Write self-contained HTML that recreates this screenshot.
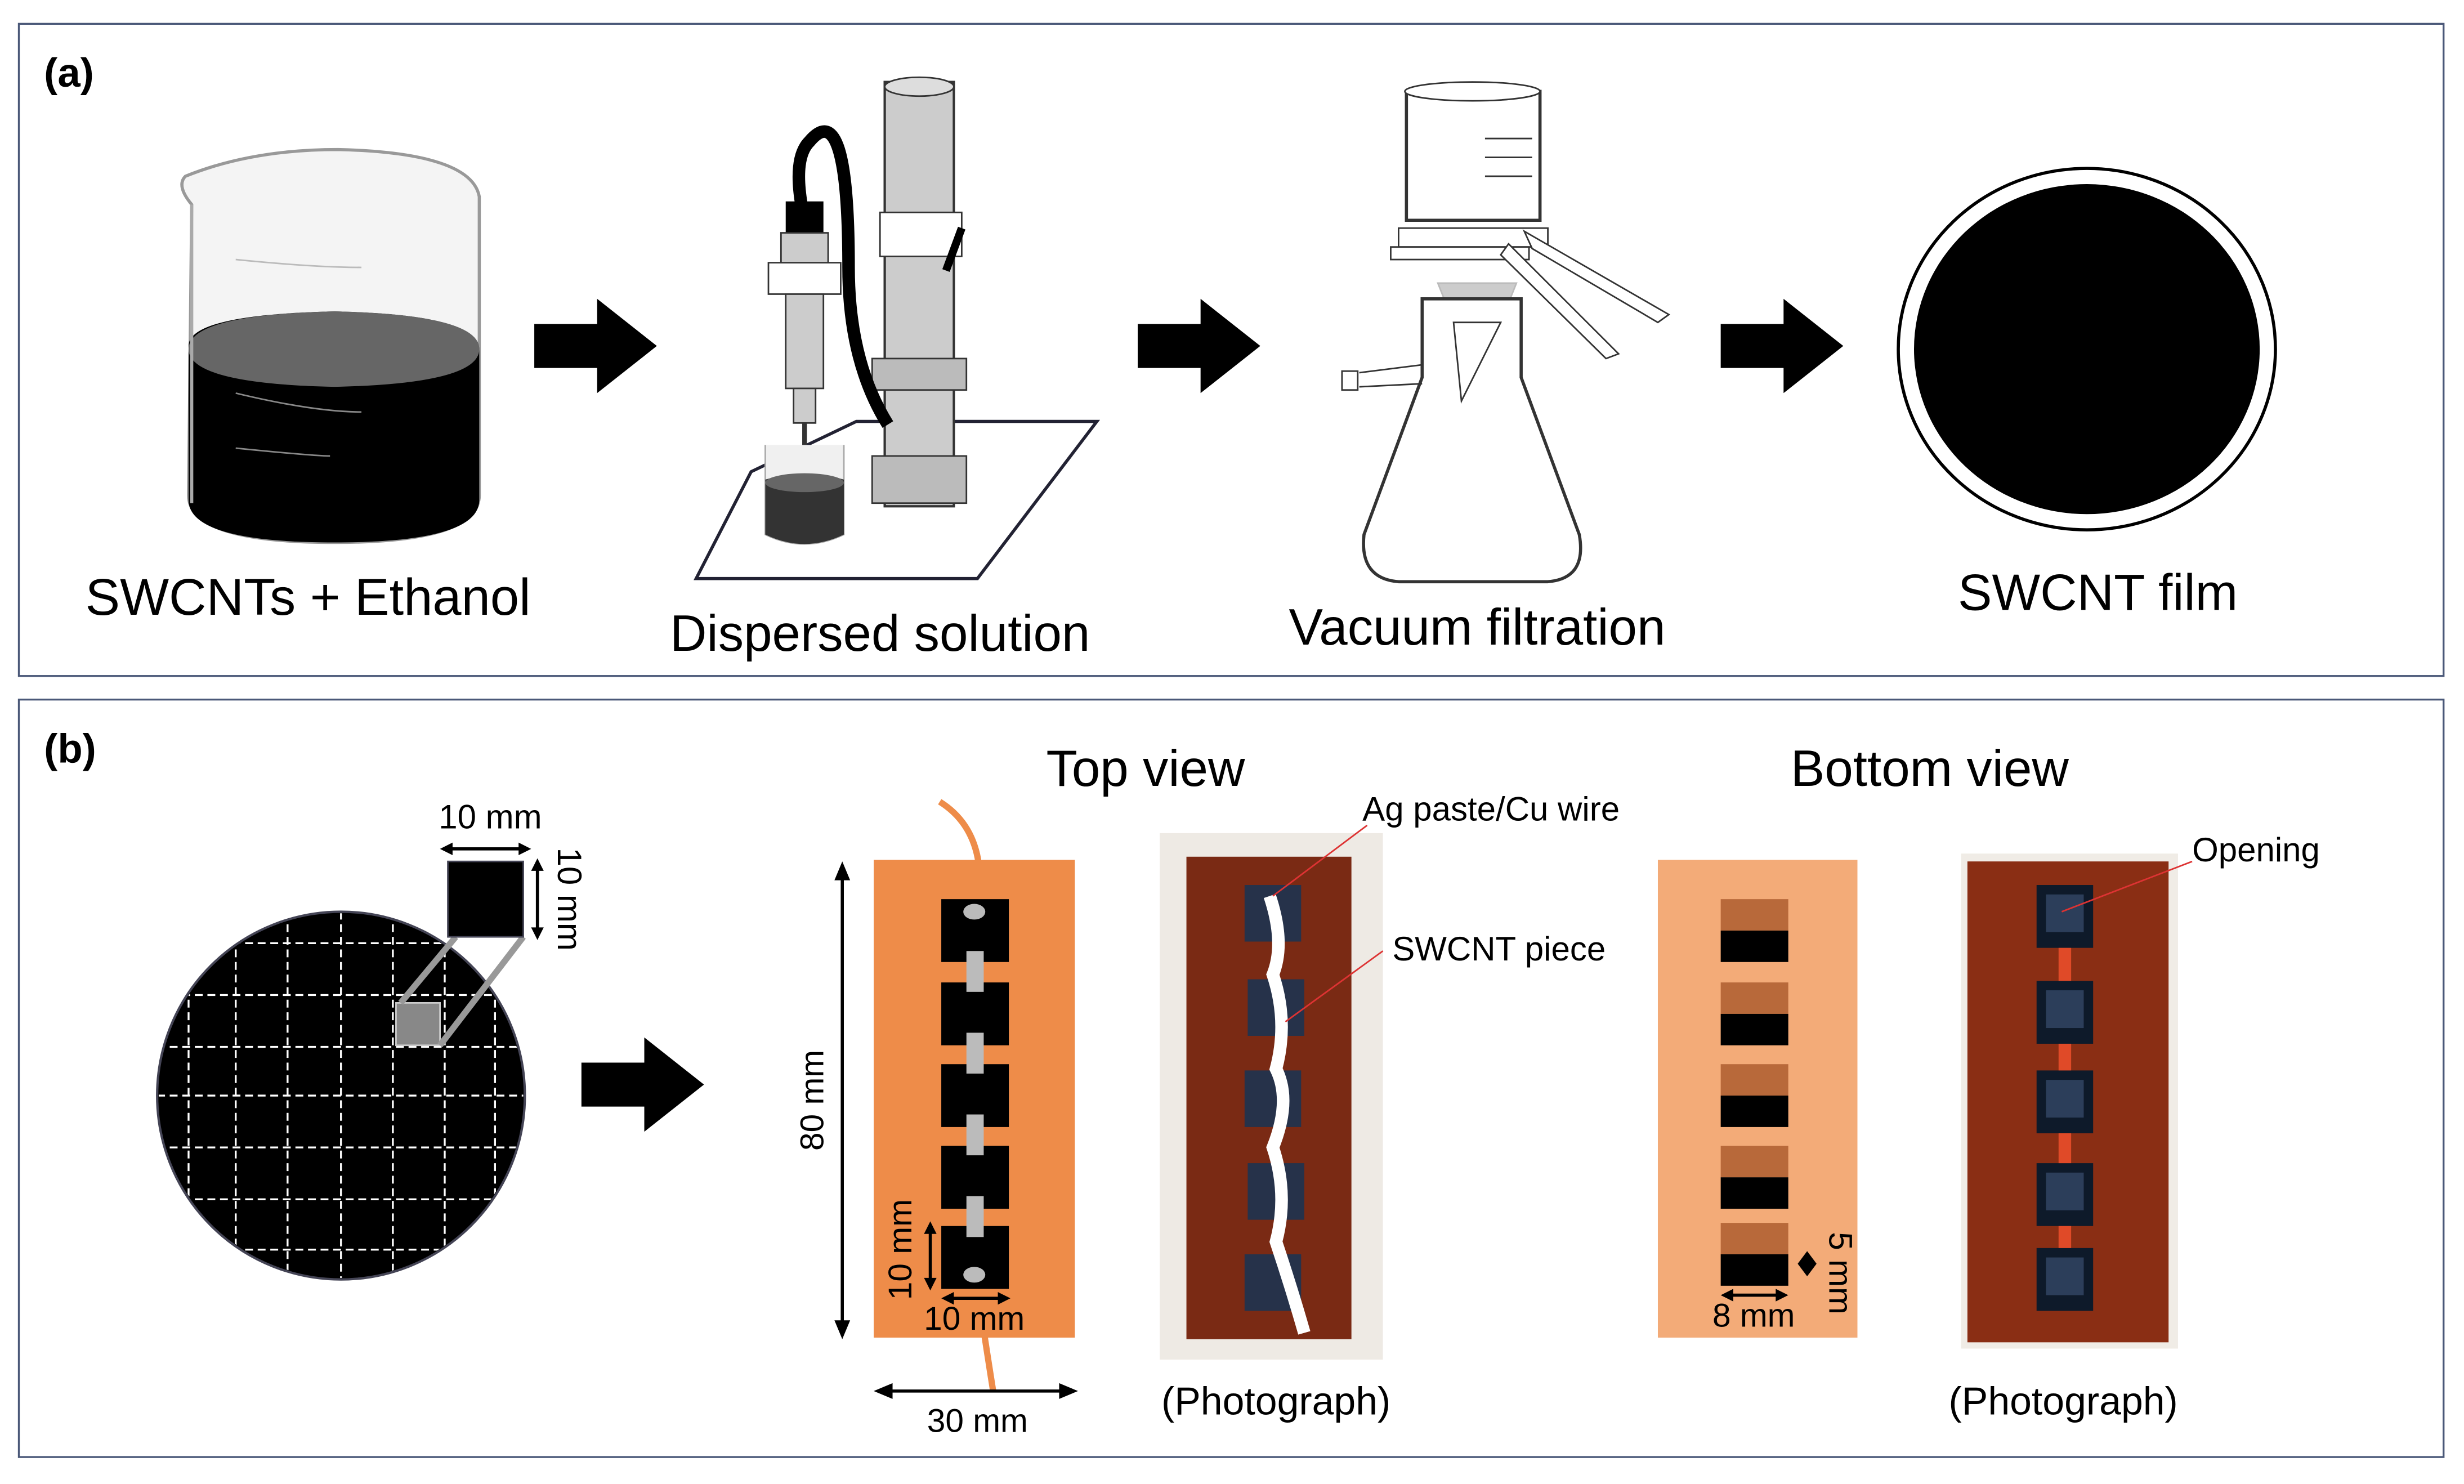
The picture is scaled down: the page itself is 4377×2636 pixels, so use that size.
<!DOCTYPE html>
<html><head><meta charset="utf-8">
<style>html,body{margin:0;padding:0;background:#fff}svg{display:block}text{font-family:"Liberation Sans",Arial,sans-serif}</style>
</head><body>
<svg width="4377" height="2636" viewBox="0 0 1568 944" xmlns="http://www.w3.org/2000/svg">
<defs>
<g id="arr"><polygon points="0,-14 40,-14 40,-30 78,0 40,30 40,14 0,14" fill="#000"/></g>
</defs>
<rect x="12" y="15" width="1543" height="415" fill="#fff" stroke="#4a5878" stroke-width="1.2"/>
<rect x="12" y="445" width="1543" height="482" fill="#fff" stroke="#4a5878" stroke-width="1.2"/>
<text x="28" y="55" font-size="26" font-weight="bold">(a)</text>
<text x="28" y="485" font-size="26" font-weight="bold">(b)</text>

<!-- beaker -->
<path d="M122,130 Q112,118 118,112 Q160,95 215,95 Q300,97 305,125 L305,315 Q305,345 213,345 Q120,345 120,315 Z" fill="#f4f4f4" stroke="#999" stroke-width="2"/>
<path d="M120,220 Q120,200 213,198 Q305,200 305,222 L305,318 Q305,345 213,345 Q120,345 120,318 Z" fill="#000"/>
<path d="M120,222 Q120,200 213,198 Q305,200 305,222 Q305,244 213,246 Q120,244 120,222 Z" fill="#666"/>
<path d="M122,130 L122,320" stroke="#aaa" stroke-width="2" fill="none"/>
<path d="M150,165 Q200,170 230,170" stroke="#bbb" fill="none"/>
<path d="M150,250 Q200,262 230,262 M150,285 Q200,290 210,290" stroke="#888" fill="none"/>
<text x="196" y="391" font-size="33" text-anchor="middle">SWCNTs + Ethanol</text>

<use href="#arr" x="340" y="220"/>
<use href="#arr" x="724" y="220"/>
<use href="#arr" x="1095" y="220"/>
<use href="#arr" x="370" y="690"/>

<!-- sonicator -->
<polygon points="478,300 545,268 698,268 622,368 443,368" fill="#fff" stroke="#223" stroke-width="2"/>
<rect x="563" y="52" width="44" height="270" fill="#ccc" stroke="#333" stroke-width="1.5"/>
<ellipse cx="585" cy="55" rx="22" ry="6" fill="#ddd" stroke="#333"/>
<rect x="555" y="228" width="60" height="20" fill="#bbb" stroke="#333"/>
<rect x="555" y="290" width="60" height="30" fill="#bbb" stroke="#333"/>
<rect x="560" y="135" width="52" height="28" fill="#fff" stroke="#333"/>
<line x1="602" y1="172" x2="612" y2="145" stroke="#000" stroke-width="5"/>
<path d="M565,270 Q540,230 540,170 Q540,60 515,90 Q505,100 510,130" stroke="#000" stroke-width="8" fill="none"/>
<rect x="500" y="128" width="24" height="20" fill="#000"/>
<rect x="497" y="148" width="30" height="20" fill="#ccc" stroke="#333"/>
<rect x="489" y="167" width="46" height="20" fill="#fff" stroke="#333"/>
<rect x="500" y="187" width="24" height="60" fill="#ccc" stroke="#333"/>
<rect x="505" y="247" width="14" height="22" fill="#ccc" stroke="#333"/>
<line x1="512" y1="269" x2="512" y2="300" stroke="#333" stroke-width="3"/>
<path d="M487,283 L487,340 Q512,352 537,340 L537,283" fill="#f0f0f0" stroke="#aaa"/>
<path d="M487,305 Q512,298 537,305 L537,340 Q512,352 487,340 Z" fill="#333"/>
<ellipse cx="512" cy="307" rx="25" ry="6" fill="#666"/>
<text x="560" y="414" font-size="32.5" text-anchor="middle">Dispersed solution</text>

<!-- filtration -->
<path d="M895,58 L980,58 L980,140 L895,140 Z" fill="#fff" stroke="#333" stroke-width="2"/>
<ellipse cx="937" cy="58" rx="43" ry="6" fill="#fff" stroke="#333"/>
<line x1="945" y1="88" x2="975" y2="88" stroke="#333"/><line x1="945" y1="100" x2="975" y2="100" stroke="#333"/><line x1="945" y1="112" x2="975" y2="112" stroke="#333"/>
<rect x="890" y="145" width="95" height="12" fill="#fff" stroke="#333"/>
<rect x="885" y="157" width="88" height="8" fill="#fff" stroke="#333"/>
<polygon points="970,147 1062,200 1055,205 975,158" fill="#fff" stroke="#333"/>
<polygon points="960,155 1030,225 1022,228 955,162" fill="#fff" stroke="#333"/>
<polygon points="915,180 965,180 955,205 925,205" fill="#ccc" stroke="#bbb"/>
<path d="M905,190 L905,240 L868,340 Q865,368 890,370 L985,370 Q1010,368 1005,340 L968,240 L968,190 Z" fill="#fff" stroke="#333" stroke-width="2"/>
<polygon points="925,205 955,205 930,255" fill="#fff" stroke="#333"/>
<path d="M905,232 L865,237 M905,244 L865,246" stroke="#333"/>
<rect x="854" y="236" width="10" height="12" fill="#fff" stroke="#333"/>
<text x="940" y="410" font-size="32.5" text-anchor="middle">Vacuum filtration</text>

<!-- film -->
<ellipse cx="1328" cy="222" rx="120" ry="115" fill="#fff" stroke="#000" stroke-width="2"/>
<ellipse cx="1328" cy="222" rx="110" ry="105" fill="#000"/>
<text x="1335" y="388" font-size="32.5" text-anchor="middle">SWCNT film</text>

<!-- panel b circle -->
<circle cx="217" cy="697" r="117" fill="#000" stroke="#445" stroke-width="1.5"/>
<clipPath id="cc"><circle cx="217" cy="697" r="116"/></clipPath>
<g clip-path="url(#cc)" stroke="#fff" stroke-width="1.2" stroke-dasharray="5,3">
<line x1="120" y1="580" x2="120" y2="815"/><line x1="150" y1="580" x2="150" y2="815"/><line x1="183" y1="580" x2="183" y2="815"/><line x1="217" y1="580" x2="217" y2="815"/><line x1="250" y1="580" x2="250" y2="815"/><line x1="283" y1="580" x2="283" y2="815"/><line x1="315" y1="580" x2="315" y2="815"/>
<line x1="100" y1="600" x2="335" y2="600"/><line x1="100" y1="633" x2="335" y2="633"/><line x1="100" y1="666" x2="335" y2="666"/><line x1="100" y1="697" x2="335" y2="697"/><line x1="100" y1="730" x2="335" y2="730"/><line x1="100" y1="763" x2="335" y2="763"/><line x1="100" y1="795" x2="335" y2="795"/>
</g>
<rect x="252" y="638" width="28" height="27" fill="#888" stroke="#ccc"/>
<line x1="255" y1="638" x2="290" y2="596" stroke="#999" stroke-width="4"/>
<line x1="280" y1="665" x2="333" y2="596" stroke="#999" stroke-width="4"/>
<rect x="285" y="548" width="48" height="48" fill="#000" stroke="#445"/>
<line x1="282" y1="540" x2="336" y2="540" stroke="#000" stroke-width="2"/>
<polygon points="280,540 288,536 288,544"/><polygon points="338,540 330,536 330,544"/>
<text x="312" y="527" font-size="21.5" text-anchor="middle">10 mm</text>
<line x1="342" y1="548" x2="342" y2="596" stroke="#000" stroke-width="2"/>
<polygon points="342,546 338,554 346,554"/><polygon points="342,598 338,590 346,590"/>
<text transform="translate(355,572) rotate(90)" font-size="21.5" text-anchor="middle">10 mm</text>

<!-- top view -->
<text x="729" y="500" font-size="32.5" text-anchor="middle">Top view</text>
<path d="M598,510 Q630,530 622,580 M622,820 Q628,860 632,885" stroke="#EE8C49" stroke-width="4" fill="none"/>
<rect x="556" y="547" width="128" height="304" fill="#EE8C49"/>
<g fill="#000">
<rect x="599" y="572" width="43" height="40"/><rect x="599" y="625" width="43" height="40"/><rect x="599" y="677" width="43" height="40"/><rect x="599" y="729" width="43" height="40"/><rect x="599" y="780" width="43" height="40"/>
</g>
<g fill="#bbb">
<ellipse cx="620" cy="580" rx="7" ry="5"/><rect x="615" y="605" width="11" height="26"/><rect x="615" y="657" width="11" height="26"/><rect x="615" y="709" width="11" height="26"/><rect x="615" y="761" width="11" height="26"/><ellipse cx="620" cy="811" rx="7" ry="5"/>
</g>
<line x1="536" y1="552" x2="536" y2="848" stroke="#000" stroke-width="2"/>
<polygon points="536,548 531,560 541,560"/><polygon points="536,852 531,840 541,840"/>
<text transform="translate(524,700) rotate(-90)" font-size="21" text-anchor="middle">80 mm</text>
<line x1="592" y1="780" x2="592" y2="818" stroke="#000" stroke-width="2"/>
<polygon points="592,777 588,785 596,785"/><polygon points="592,821 588,813 596,813"/>
<text transform="translate(580,795) rotate(-90)" font-size="21" text-anchor="middle">10 mm</text>
<line x1="601" y1="826" x2="641" y2="826" stroke="#000" stroke-width="2"/>
<polygon points="599,826 607,822 607,830"/><polygon points="643,826 635,822 635,830"/>
<text x="620" y="846" font-size="21" text-anchor="middle">10 mm</text>
<line x1="560" y1="885" x2="682" y2="885" stroke="#000" stroke-width="2"/>
<polygon points="556,885 568,880 568,890"/><polygon points="686,885 674,880 674,890"/>
<text x="622" y="911" font-size="21" text-anchor="middle">30 mm</text>

<!-- photo 1 -->
<rect x="738" y="530" width="142" height="335" fill="#eeeae4"/>
<rect x="755" y="545" width="105" height="307" fill="#7a2a14"/>
<g fill="#26324a">
<rect x="792" y="563" width="36" height="36"/><rect x="794" y="623" width="36" height="36"/><rect x="792" y="681" width="36" height="36"/><rect x="794" y="740" width="36" height="36"/><rect x="792" y="798" width="36" height="36"/>
</g>
<path d="M808,570 Q818,600 810,620 Q820,650 812,680 Q822,700 810,730 Q820,760 812,790 Q822,820 830,848" stroke="#fff" stroke-width="8" fill="none"/>
<line x1="810" y1="570" x2="870" y2="525" stroke="#d33" stroke-width="1"/>
<line x1="818" y1="650" x2="880" y2="605" stroke="#d33" stroke-width="1"/>
<text x="867" y="522" font-size="21.5">Ag paste/Cu wire</text>
<text x="886" y="611" font-size="21.5">SWCNT piece</text>
<text x="812" y="900" font-size="25" text-anchor="middle">(Photograph)</text>

<!-- bottom view -->
<text x="1228" y="500" font-size="32.5" text-anchor="middle">Bottom view</text>
<rect x="1055" y="547" width="127" height="304" fill="#F3AB78"/>
<g>
<rect x="1095" y="572" width="43" height="20" fill="#b8693a"/><rect x="1095" y="592" width="43" height="20" fill="#000"/>
<rect x="1095" y="625" width="43" height="20" fill="#b8693a"/><rect x="1095" y="645" width="43" height="20" fill="#000"/>
<rect x="1095" y="677" width="43" height="20" fill="#b8693a"/><rect x="1095" y="697" width="43" height="20" fill="#000"/>
<rect x="1095" y="729" width="43" height="20" fill="#b8693a"/><rect x="1095" y="749" width="43" height="20" fill="#000"/>
<rect x="1095" y="778" width="43" height="20" fill="#b8693a"/><rect x="1095" y="798" width="43" height="20" fill="#000"/>
</g>
<polygon points="1150,796 1144,804 1150,812 1156,804"/>
<text transform="translate(1164,810) rotate(90)" font-size="21" text-anchor="middle">5 mm</text>
<line x1="1097" y1="824" x2="1136" y2="824" stroke="#000" stroke-width="2"/>
<polygon points="1095,824 1103,820 1103,828"/><polygon points="1138,824 1130,820 1130,828"/>
<text x="1116" y="844" font-size="21" text-anchor="middle">8 mm</text>

<!-- photo 2 -->
<rect x="1248" y="543" width="138" height="315" fill="#f0ece6"/>
<rect x="1252" y="548" width="128" height="306" fill="#8a2e14"/>
<g fill="#0e1a2a">
<rect x="1296" y="563" width="36" height="40"/><rect x="1296" y="624" width="36" height="40"/><rect x="1296" y="681" width="36" height="40"/><rect x="1296" y="740" width="36" height="40"/><rect x="1296" y="794" width="36" height="40"/>
</g>
<g fill="#2c3e5a">
<rect x="1302" y="569" width="24" height="24"/><rect x="1302" y="630" width="24" height="24"/><rect x="1302" y="687" width="24" height="24"/><rect x="1302" y="746" width="24" height="24"/><rect x="1302" y="800" width="24" height="24"/>
</g>
<g fill="#e04a28"><rect x="1310" y="603" width="8" height="21"/><rect x="1310" y="664" width="8" height="17"/><rect x="1310" y="721" width="8" height="19"/><rect x="1310" y="780" width="8" height="14"/></g>
<line x1="1312" y1="580" x2="1395" y2="548" stroke="#d33" stroke-width="1"/>
<text x="1395" y="548" font-size="21.5">Opening</text>
<text x="1313" y="900" font-size="25" text-anchor="middle">(Photograph)</text>
</svg>
</body></html>
